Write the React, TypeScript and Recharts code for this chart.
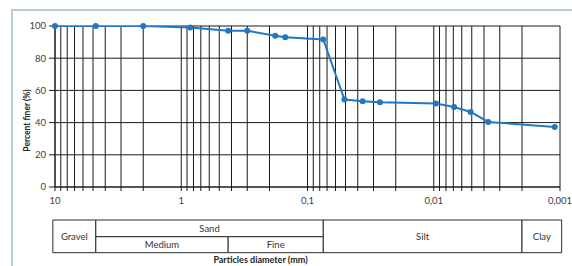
import React from 'react';
import { LineChart, Line, XAxis, YAxis, CartesianGrid, ReferenceArea } from 'recharts';

// Particle diameter (mm) and percent finer (%)
const diameters = [10, 4.75, 2.0, 0.85, 0.425, 0.3, 0.18, 0.15, 0.075, 0.051, 0.0366, 0.0267, 0.0096, 0.0069, 0.0051, 0.0037, 0.0011];
const percentFiner = [100, 100, 100, 99, 97, 97, 94, 93, 91.6, 54.3, 53.2, 52.6, 51.8, 49.7, 46.6, 40.4, 37.3];

const xTicks = [
  10, 9, 8, 7, 6, 5, 4, 3, 2,
  1, 0.9, 0.8, 0.7, 0.6, 0.5, 0.4, 0.3, 0.2,
  0.1, 0.09, 0.08, 0.07, 0.06, 0.05, 0.04, 0.03, 0.02,
  0.01, 0.009, 0.008, 0.007, 0.006, 0.005, 0.004, 0.003, 0.002,
  0.001,
];
const decadeLabels: Record<string, string> = { '10': '10', '1': '1', '0.1': '0,1', '0.01': '0,01', '0.001': '0,001' };
const yTicks = [0, 20, 40, 60, 80, 100];

// Soil classification table (boundaries in mm)
const classNames = ['Gravel', 'Sand', 'Medium', 'Fine', 'Silt', 'Clay'];
const classFrom = [10.4, 4.75, 4.75, 0.425, 0.075, 0.002];
const classTo = [4.75, 0.075, 0.425, 0.075, 0.002, 0.00097];
const classRow = ['full', 'top', 'bottom', 'bottom', 'full', 'full'];
const rowTop = -20.5;
const rowMid = -30.9;
const rowBottom = -40.8;

const data = diameters.map((d, i) => ({ d, p: percentFiner[i] }));

const FONT = 'Lato, "Open Sans", sans-serif';

export default function App() {
  return (
    <div style={{ position: 'absolute', left: 0, top: 0, width: 572, height: 266, background: '#fff', overflow: 'hidden', fontFamily: FONT }}>
      <div style={{ position: 'absolute', left: 11, top: 9, width: 600, height: 300, border: '2px solid #b9cbd4', boxSizing: 'border-box' }} />
      <div style={{ position: 'absolute', left: 0, top: 0 }}>
        <LineChart width={572} height={266} data={data} margin={{ top: 26, right: 12, bottom: 49, left: 0 }}>
          <CartesianGrid stroke="#1a1a1a" strokeWidth={1} />
          <XAxis
            dataKey="d"
            type="number"
            scale="log"
            domain={[0.001, 10]}
            allowDataOverflow
            reversed
            ticks={xTicks}
            interval={0}
            tickFormatter={(v: number) => decadeLabels[String(v)] ?? ''}
            tick={{ fontSize: 9.5, fill: '#404040', fontFamily: FONT }}
            tickSize={4}
            tickMargin={6}
            axisLine={{ stroke: '#1a1a1a' }}
            tickLine={{ stroke: '#1a1a1a' }}
            height={30}
            label={{
              content: (props: any) => {
                const vb = props.viewBox || {};
                const cx = (vb.x ?? 55) + (vb.width ?? 505) / 2 - 47;
                return (
                  <text x={cx} y={263} textAnchor="middle" fontSize={9} fontWeight="bold" fill="#222" fontFamily={FONT}>
                    Particles diameter (mm)
                  </text>
                );
              },
            }}
          />
          <YAxis
            type="number"
            domain={[0, 100]}
            ticks={yTicks}
            allowDataOverflow
            width={55}
            tick={{ fontSize: 9.5, fill: '#404040', fontFamily: FONT }}
            tickSize={6}
            tickMargin={3}
            axisLine={{ stroke: '#1a1a1a' }}
            tickLine={{ stroke: '#1a1a1a' }}
            label={{
              content: (props: any) => {
                const vb = props.viewBox || {};
                const x = (vb.x ?? 0) + 27;
                const y = (vb.y ?? 26) + (vb.height ?? 161) / 2 + 14;
                return (
                  <text x={x} y={y} transform={`rotate(-90, ${x}, ${y})`} textAnchor="middle" dominantBaseline="central" fontSize={8.5} fontWeight="bold" fill="#222" fontFamily={FONT}>
                    Percent finer (%)
                  </text>
                );
              },
            }}
          />
          {classNames.map((name, i) => (
            <ReferenceArea
              key={name}
              x1={classFrom[i]}
              x2={classTo[i]}
              y1={classRow[i] === 'bottom' ? rowMid : rowTop}
              y2={classRow[i] === 'top' ? rowMid : rowBottom}
              ifOverflow="visible"
              fill="#ffffff"
              fillOpacity={1}
              stroke="#2a2a2a"
              strokeWidth={1}
              label={{ value: name, position: 'center', fontSize: 9.5, fill: '#333', fontFamily: FONT }}
            />
          ))}
          <Line
            type="linear"
            dataKey="p"
            stroke="#1f78c4"
            strokeWidth={2}
            dot={{ r: 3, fill: '#1f78c4', stroke: '#1f78c4', strokeWidth: 0, clipDot: false }}
            isAnimationActive={false}
          />
        </LineChart>
      </div>
    </div>
  );
}
